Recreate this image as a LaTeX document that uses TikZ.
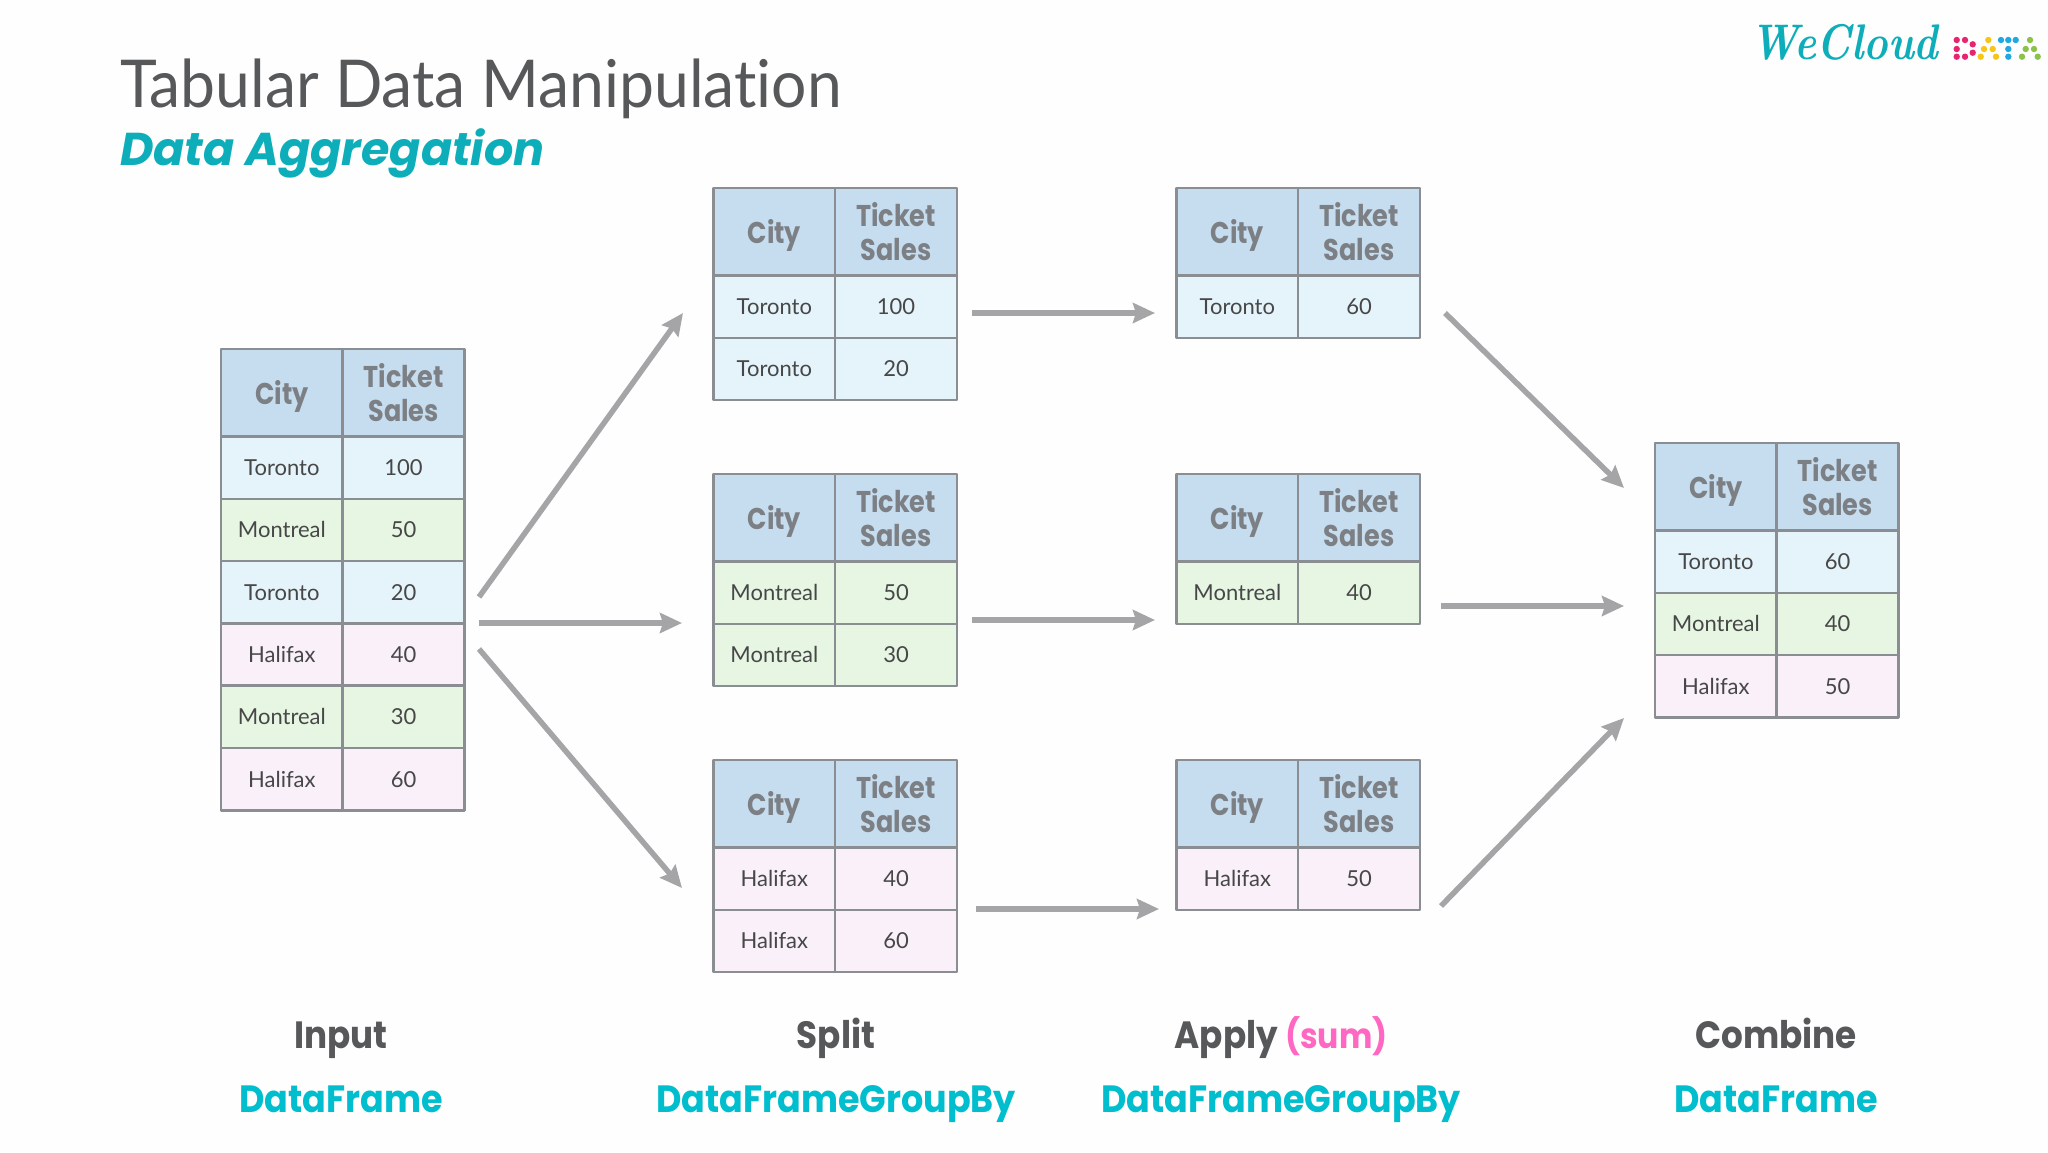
\documentclass[tikz,border=0pt]{standalone}
\usepackage{fontspec}
\usetikzlibrary{positioning,arrows.meta}
\newfontfamily\titlefont[FakeStretch=0.945,Ligatures=NoCommon]{Lato}
\newfontfamily\cellfont{Lato}
\newfontfamily\headfont[FakeStretch=0.85]{Poppins}
\newfontfamily\stagefont[FakeStretch=0.9]{Poppins}
\newfontfamily\kindfont[FakeStretch=0.92]{Poppins}
\newfontfamily\subfont{Poppins}
\definecolor{inkgrey}{HTML}{57585A}
\definecolor{headgrey}{HTML}{7C8085}
\definecolor{gridgrey}{HTML}{8A8E92}
\definecolor{arrowgrey}{HTML}{A5A5A8}
\definecolor{subteal}{HTML}{0DAEBA}
\definecolor{dfteal}{HTML}{00BECE}
\definecolor{sumpink}{HTML}{FF68C2}
\definecolor{headblue}{HTML}{C6DDF0}
\definecolor{rowblue}{HTML}{E5F4FB}
\definecolor{rowgreen}{HTML}{E6F6E3}
\definecolor{rowpink}{HTML}{F9F0FA}
\definecolor{dotpink}{HTML}{E8246F}
\definecolor{dotyellow}{HTML}{F5C518}
\definecolor{dotblue}{HTML}{1FA9E0}
\definecolor{dotgreen}{HTML}{8BC34A}
\begin{document}
\begin{tikzpicture}[x=1pt,y=-1pt,line join=round]
    \tikzstyle{cell} = [draw=gridgrey,line width=2.5pt,inner sep=0pt,outer sep=0pt,
                        minimum width=121.7pt,minimum height=62.3pt,text=black!72,
                        text height=16pt,text depth=0pt,
                        font=\cellfont\fontsize{22}{26}\selectfont]
    \tikzstyle{head} = [draw=gridgrey,line width=2.5pt,inner sep=0pt,outer sep=0pt,
                        minimum width=121.7pt,fill=headblue,minimum height=87.5pt,align=center,text=headgrey,
                        font=\headfont\bfseries\fontsize{30}{34}\selectfont]
    \tikzstyle{cityhead} = [head,text height=27pt,text depth=4pt]
    \tikzstyle{tor} = [cell,fill=rowblue]
    \tikzstyle{mon} = [cell,fill=rowgreen]
    \tikzstyle{hal} = [cell,fill=rowpink]
    \tikzstyle{flow} = [draw=arrowgrey,line width=5.5pt,-{Stealth[length=22pt,width=20pt,inset=3pt]}]
    \tikzstyle{stage} = [anchor=base,text=inkgrey,inner sep=0pt,font=\stagefont\bfseries\fontsize{38}{42}\selectfont]
    \tikzstyle{kind} = [anchor=base,text=dfteal,inner sep=0pt,font=\kindfont\bfseries\fontsize{38}{42}\selectfont]

    \useasboundingbox (0,0) rectangle (2048,1152);
    \fill[white!99.6!black] (0,0) rectangle (2048,1152);

    % Title and logo
    \node[anchor=base west,inner sep=0pt,text=inkgrey,font=\titlefont\fontsize{66}{70}\selectfont]
        (title) at (120,107) {Tabular Data Manipulation};
    \node[anchor=base west,inner sep=0pt,text=subteal,font=\subfont\bfseries\itshape\fontsize{46}{50}\selectfont]
        (subtitle) at (120,165) {Data Aggregation};
    \node[anchor=base west,inner sep=0pt,text=subteal,font=\itshape\bfseries\fontsize{50}{54}\selectfont]
        (logo) at (1750,59) {\scalebox{0.83}[1]{WeCloud}};
    \foreach \px/\py in {1956.7/40,1965/40,1972.7/44.3,1956.7/49,1972.7/52.7,1956.7/56.7,1965/56.7}
        \fill[dotpink] (\px,\py) circle (3.2);
    \foreach \px/\py in {1988.3/40,1984/49,1992.7/49,1980.7/56.7,1996/56.7}
        \fill[dotyellow] (\px,\py) circle (3.2);
    \foreach \px/\py in {2001/40,2008.3/40,2015.7/40,2008.3/49,2008.3/56.7}
        \fill[dotblue] (\px,\py) circle (3.2);
    \foreach \px/\py in {2030/40,2025.7/49,2034/49,2022/56.7,2037.7/56.7}
        \fill[dotgreen] (\px,\py) circle (3.2);

    % Input table
    \node[cityhead,anchor=north west] (in0) at (221,349) {City};
    \node[head,right=0pt of in0] (in0s) {Ticket\\Sales};
    \node[tor,below=0pt of in0] (in1) {Toronto};
    \node[tor,right=0pt of in1] (in1s) {100};
    \node[mon,below=0pt of in1] (in2) {Montreal};
    \node[mon,right=0pt of in2] (in2s) {50};
    \node[tor,below=0pt of in2] (in3) {Toronto};
    \node[tor,right=0pt of in3] (in3s) {20};
    \node[hal,below=0pt of in3] (in4) {Halifax};
    \node[hal,right=0pt of in4] (in4s) {40};
    \node[mon,below=0pt of in4] (in5) {Montreal};
    \node[mon,right=0pt of in5] (in5s) {30};
    \node[hal,below=0pt of in5] (in6) {Halifax};
    \node[hal,right=0pt of in6] (in6s) {60};

    % Split tables
    \node[cityhead,anchor=north west] (sa0) at (713.5,188) {City};
    \node[head,right=0pt of sa0] (sa0s) {Ticket\\Sales};
    \node[tor,below=0pt of sa0] (sa1) {Toronto};
    \node[tor,right=0pt of sa1] (sa1s) {100};
    \node[tor,below=0pt of sa1] (sa2) {Toronto};
    \node[tor,right=0pt of sa2] (sa2s) {20};

    \node[cityhead,anchor=north west] (sb0) at (713.5,474) {City};
    \node[head,right=0pt of sb0] (sb0s) {Ticket\\Sales};
    \node[mon,below=0pt of sb0] (sb1) {Montreal};
    \node[mon,right=0pt of sb1] (sb1s) {50};
    \node[mon,below=0pt of sb1] (sb2) {Montreal};
    \node[mon,right=0pt of sb2] (sb2s) {30};

    \node[cityhead,anchor=north west] (sc0) at (713.5,760) {City};
    \node[head,right=0pt of sc0] (sc0s) {Ticket\\Sales};
    \node[hal,below=0pt of sc0] (sc1) {Halifax};
    \node[hal,right=0pt of sc1] (sc1s) {40};
    \node[hal,below=0pt of sc1] (sc2) {Halifax};
    \node[hal,right=0pt of sc2] (sc2s) {60};

    % Apply tables
    \node[cityhead,anchor=north west] (aa0) at (1176.5,188) {City};
    \node[head,right=0pt of aa0] (aa0s) {Ticket\\Sales};
    \node[tor,below=0pt of aa0] (aa1) {Toronto};
    \node[tor,right=0pt of aa1] (aa1s) {60};

    \node[cityhead,anchor=north west] (ab0) at (1176.5,474) {City};
    \node[head,right=0pt of ab0] (ab0s) {Ticket\\Sales};
    \node[mon,below=0pt of ab0] (ab1) {Montreal};
    \node[mon,right=0pt of ab1] (ab1s) {40};

    \node[cityhead,anchor=north west] (ac0) at (1176.5,760) {City};
    \node[head,right=0pt of ac0] (ac0s) {Ticket\\Sales};
    \node[hal,below=0pt of ac0] (ac1) {Halifax};
    \node[hal,right=0pt of ac1] (ac1s) {50};

    % Combined table
    \node[cityhead,anchor=north west] (cm0) at (1655,443) {City};
    \node[head,right=0pt of cm0] (cm0s) {Ticket\\Sales};
    \node[tor,below=0pt of cm0] (cm1) {Toronto};
    \node[tor,right=0pt of cm1] (cm1s) {60};
    \node[mon,below=0pt of cm1] (cm2) {Montreal};
    \node[mon,right=0pt of cm2] (cm2s) {40};
    \node[hal,below=0pt of cm2] (cm3) {Halifax};
    \node[hal,right=0pt of cm3] (cm3s) {50};

    % Arrow ends
    \coordinate (inA) at (479,597);
    \coordinate (inB) at (479,623);
    \coordinate (inC) at (479,649);
    \coordinate (toSa) at (683,313);
    \coordinate (toSb) at (682,623);
    \coordinate (toSc) at (682,888);
    \coordinate (saOut) at (972,313);
    \coordinate (sbOut) at (972,620);
    \coordinate (scOut) at (976,909);
    \coordinate (toAa) at (1155,313);
    \coordinate (toAb) at (1155,620);
    \coordinate (toAc) at (1159,909);
    \coordinate (aaOut) at (1445,313);
    \coordinate (abOut) at (1441,606);
    \coordinate (acOut) at (1441,906);
    \coordinate (toCa) at (1624,488);
    \coordinate (toCb) at (1624,606);
    \coordinate (toCc) at (1624,718);

    \draw[flow] (inA) -- (toSa);
    \draw[flow] (inB) -- (toSb);
    \draw[flow] (inC) -- (toSc);
    \draw[flow] (saOut) -- (toAa);
    \draw[flow] (sbOut) -- (toAb);
    \draw[flow] (scOut) -- (toAc);
    \draw[flow] (aaOut) -- (toCa);
    \draw[flow] (abOut) -- (toCb);
    \draw[flow] (acOut) -- (toCc);

    % Captions
    \node[stage] (inputlab) at (341,1048) {Input};
    \node[stage] (splitlab) at (836,1048) {Split};
    \node[stage] (applylab) at (1281,1048) {Apply {\color{sumpink}\fontsize{35}{38}\selectfont (sum)}};
    \node[stage] (combinelab) at (1776,1048) {Combine};
    \node[kind] (inputkind) at (341,1112) {DataFrame};
    \node[kind] (splitkind) at (836,1112) {DataFrameGroupBy};
    \node[kind] (applykind) at (1281,1112) {DataFrameGroupBy};
    \node[kind] (combinekind) at (1776,1112) {DataFrame};
\end{tikzpicture}
\end{document}
